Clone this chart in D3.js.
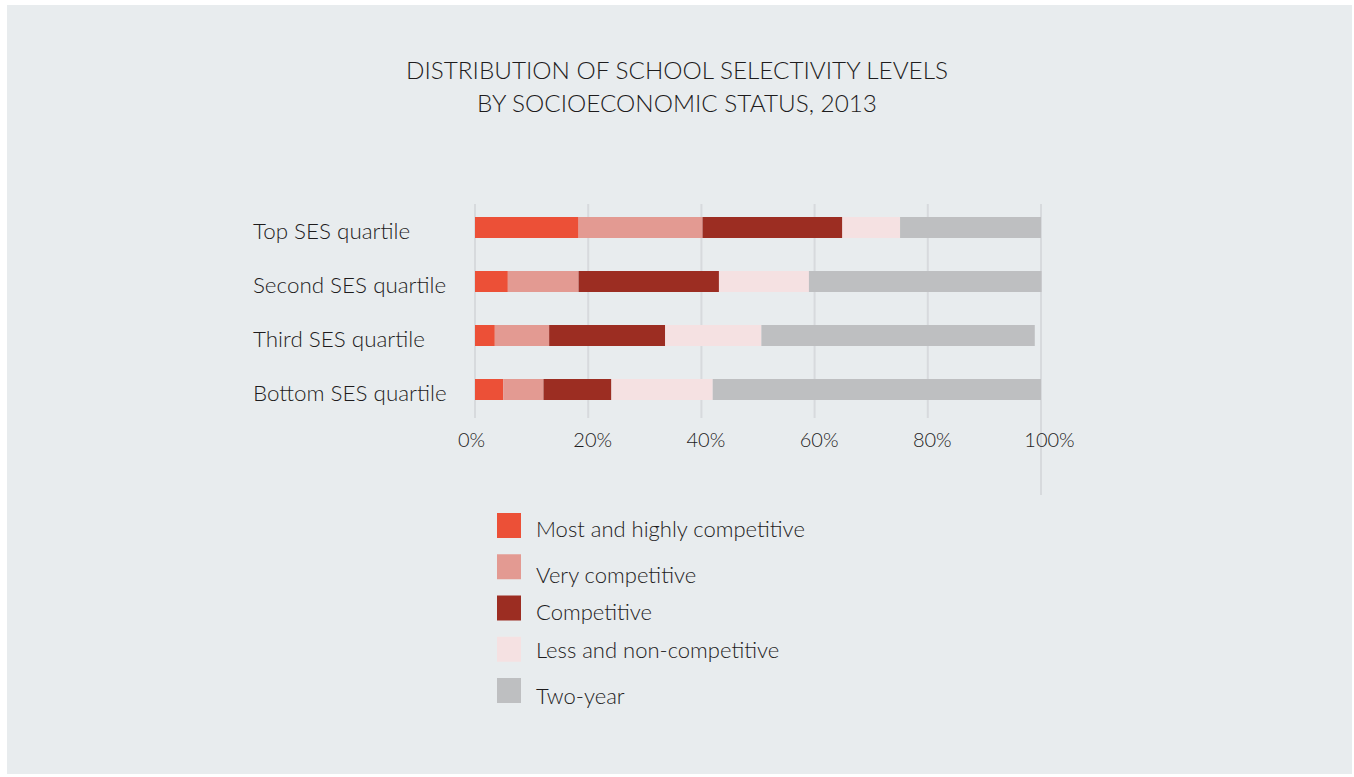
<!DOCTYPE html>
<html>
<head>
<meta charset="utf-8">
<script src="https://cdn.jsdelivr.net/npm/d3@7"></script>
<style>
    html, body { margin: 0; padding: 0; background: #ffffff; }
    svg { display: block; }
    text { font-family: Lato, "Open Sans", sans-serif; font-weight: 300; fill: #1e1c1d; }
</style>
</head>
<body>
<div id="chart"></div>
<script>
// Chart data
const categories = ['Top SES quartile', 'Second SES quartile', 'Third SES quartile', 'Bottom SES quartile'];
const seriesNames = ['Most and highly competitive', 'Very competitive', 'Competitive', 'Less and non-competitive', 'Two-year'];
const mostHighly = [18.3, 5.8, 3.5, 5.0];
const veryComp = [21.9, 12.5, 9.6, 7.1];
const competitive = [24.7, 24.8, 20.5, 12.0];
const lessNon = [10.2, 15.9, 17.0, 17.9];
const twoYear = [24.9, 41.1, 48.3, 58.0];
const tickValues = [0, 20, 40, 60, 80, 100];
const titleLines = ['DISTRIBUTION OF SCHOOL SELECTIVITY LEVELS', 'BY SOCIOECONOMIC STATUS, 2013'];
const colors = ['#ec5037', '#e39a92', '#9c2d22', '#f5e1e2', '#bebfc1'];

const width = 1354, height = 777;

const svg = d3.select('#chart')
    .append('svg')
    .attr('width', width)
    .attr('height', height);

// Grey panel
svg.append('rect')
    .attr('x', 7).attr('y', 5)
    .attr('width', 1345).attr('height', 769)
    .attr('fill', '#e8ecee');

// Title
svg.append('g').selectAll('text')
    .data(titleLines)
    .enter()
    .append('text')
    .attr('x', 677)
    .attr('y', (d, i) => 79 + i * 33)
    .attr('text-anchor', 'middle')
    .style('font-size', '24.3px')
    .text(d => d);

// Scales
const x = d3.scaleLinear().domain([0, 100]).range([475, 1041]);
const y = d3.scaleBand()
    .domain(categories)
    .range([200.5, 416.5])
    .paddingInner(33 / 54)
    .paddingOuter(16.5 / 54);

// Gridlines
svg.append('g').selectAll('line')
    .data(tickValues)
    .enter()
    .append('line')
    .attr('x1', d => x(d)).attr('x2', d => x(d))
    .attr('y1', 204)
    .attr('y2', d => d === 100 ? 495 : 418)
    .attr('stroke', '#d7dadd')
    .attr('stroke-width', 2);

// Stacked bars
const rows = categories.map((c, i) => ({
    cat: c,
    s0: mostHighly[i], s1: veryComp[i], s2: competitive[i], s3: lessNon[i], s4: twoYear[i]
}));
const stack = d3.stack().keys(['s0', 's1', 's2', 's3', 's4']);
const layers = stack(rows);

svg.append('g').selectAll('g')
    .data(layers)
    .enter()
    .append('g')
    .attr('fill', (d, i) => colors[i])
    .selectAll('rect')
    .data(d => d)
    .enter()
    .append('rect')
    .attr('x', d => x(d[0]))
    .attr('y', d => y(d.data.cat))
    .attr('width', d => x(d[1]) - x(d[0]))
    .attr('height', y.bandwidth());

// Category labels
svg.append('g').selectAll('text')
    .data(categories)
    .enter()
    .append('text')
    .attr('x', 253)
    .attr('y', d => y(d) + y.bandwidth() / 2 + 11)
    .style('font-size', '22.4px')
    .text(d => d);

// X axis labels
const xAxis = svg.append('g')
    .attr('transform', 'translate(0, 429)')
    .call(d3.axisBottom(x).tickValues(tickValues).tickSize(0).tickFormat(d => d + '%'));
xAxis.select('.domain').remove();
xAxis.selectAll('text')
    .attr('dy', 0)
    .attr('y', 18)
    .attr('dx', d => d === 100 ? 8 : (d === 0 ? -4 : 4))
    .style('font-family', 'Lato, "Open Sans", sans-serif')
    .style('font-weight', 300)
    .style('font-size', '20px')
    .attr('fill', '#1e1c1d');

// Legend
const labelNudge = [0, 5, 0, -3, 2];
const legend = svg.append('g').selectAll('g')
    .data(seriesNames)
    .enter()
    .append('g')
    .attr('transform', (d, i) => `translate(497, ${513 + i * 41.25})`);
legend.append('rect')
    .attr('width', 24)
    .attr('height', 25)
    .attr('fill', (d, i) => colors[i]);
legend.append('text')
    .attr('x', 39)
    .attr('y', (d, i) => 24 + labelNudge[i])
    .style('font-size', '22px')
    .text(d => d);
</script>
</body>
</html>
